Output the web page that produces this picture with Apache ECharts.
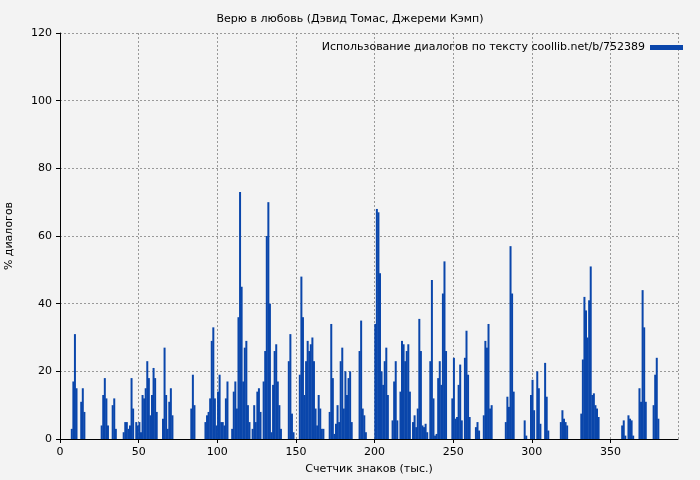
<!DOCTYPE html>
<html>
<head>
<meta charset="utf-8">
<script src="https://cdn.jsdelivr.net/npm/echarts@6/dist/echarts.min.js"></script>
<style>
html, body { margin: 0; padding: 0; background: #f3f3f3; }
#chart { width: 700px; height: 480px; }
</style>
</head>
<body>
<div id="chart"></div>
<script>
// доля диалогов на каждую тысячу знаков, начиная с 0
var dialogShare = [
	0,0,0,0,0,0,0,3,17,31,
	15,0,0,11,15,8,0,0,0,0,
	0,0,0,0,0,0,4,13,18,12,
	4,0,0,10,12,3,0,0,0,0,
	2,5,5,3,4,18,9,0,5,4,
	5,2,13,12,15,23,18,7,13,21,
	18,8,0,0,0,6,27,13,3,11,
	15,7,0,0,0,0,0,0,0,0,
	0,0,0,9,19,10,0,0,0,0,
	0,0,5,7,8,12,29,33,12,4,
	14,19,5,5,4,12,17,0,0,3,
	14,17,9,36,73,45,17,27,29,10,
	5,0,3,10,5,14,15,8,0,17,
	26,60,70,40,2,16,26,28,17,10,
	3,0,0,0,0,23,31,7.5,2,0,
	0,0,19,48,36,13,23,29,26,28,
	30,23,9,4,13,9,3,3,0,0,
	0,8,34,18,1.5,4.5,10,5,23,27,
	9,20,13,18,20,5,0,0,0,0,
	26,35,9,7,2,0,0,0,0,0,
	34,68,67,49,20,16,23,27,13,0,
	0,5.5,17,23,5.5,0,14,29,28,23,
	26,28,14,0,5,7,3.5,9,35.5,26,
	4,3.5,4.5,2,0,23,47,12,1,1.5,
	18,23,16,43,52.5,26,0,0,0,12,
	24,6,6.5,16,22,5.5,0,24,32,19,
	6.5,0,0,0,3.5,5,2.5,0,0,7,
	29,27,34,9,10,0,0,0,0,0,
	0,0,0,5,12.5,9.5,57,43,14,0,
	0,0,0,0,0,5.5,1,0,0,13,
	17.5,8.5,0,20,15,4.5,0,0,22.5,12.5,
	2.5,0,0,0,0,0,0,0,5,8.5,
	6,5,4,0,0,0,0,0,0,0,
	0,7.5,23.5,42,38,30,41,51,13,13.5,
	10,9,6.5,0,0,0,0,0,0,0,
	0,0,0,0,0,0,0,4,5.5,1,
	0,7,6,5.5,1,0,0,0,15,11,
	44,33,11,0,0,0,0,10,19,24,6
];

var seriesName = "Использование диалогов по тексту coollib.net/b/752389";

var points = [];
for(var i = 0; i < dialogShare.length; ++i){
	points.push([i + 0.5, dialogShare[i]]);
}

var chart = echarts.init(document.getElementById("chart"));
var gridLine = { show : true, lineStyle : { color : "#999", type : [2, 2], width : 1 } };
var axisText = { color : "#000", fontSize : 11, fontFamily : "DejaVu Sans" };

chart.setOption({
	backgroundColor : "#f3f3f3",
	animation : false,
	title : {
		text : "Верю в любовь (Дэвид Томас, Джереми Кэмп)",
		left : "center",
		top : 9,
		textStyle : { fontSize : 11, fontWeight : "normal", color : "#000", fontFamily : "DejaVu Sans" }
	},
	legend : {
		right : 12,
		top : 37,
		align : "right",
		itemWidth : 33,
		itemHeight : 5,
		itemGap : 5,
		textStyle : axisText,
		data : [{ name : seriesName, icon : "rect" }]
	},
	grid : { left : 60, right : 22, top : 33, bottom : 41, outerBoundsMode : "none", containLabel : false },
	xAxis : {
		type : "value",
		min : 0,
		max : 393,
		interval : 50,
		name : "Счетчик знаков (тыс.)",
		nameLocation : "middle",
		nameGap : 25,
		nameTextStyle : axisText,
		axisLine : { lineStyle : { color : "#000" } },
		axisTick : { lineStyle : { color : "#000" }, length : 4 },
		axisLabel : { color : "#000", fontSize : 11, fontFamily : "DejaVu Sans", showMaxLabel : false },
		splitLine : gridLine
	},
	yAxis : {
		type : "value",
		min : 0,
		max : 120,
		interval : 20,
		name : "% диалогов",
		nameLocation : "middle",
		nameGap : 45,
		nameTextStyle : axisText,
		axisLine : { show : true, lineStyle : { color : "#000" } },
		axisTick : { show : true, lineStyle : { color : "#000" }, length : 4 },
		axisLabel : axisText,
		splitLine : gridLine
	},
	series : [{
		name : seriesName,
		type : "bar",
		data : points,
		barWidth : 2,
		itemStyle : { color : "#0a46ab" }
	}]
});
</script>
</body>
</html>
